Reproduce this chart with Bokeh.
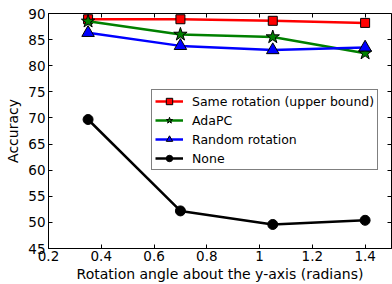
from bokeh.plotting import figure
from bokeh.models import Range1d, FixedTicker, LinearAxis, Legend, LegendItem
from bokeh.embed import file_html
from bokeh.resources import INLINE

angles = [0.35, 0.7, 1.05, 1.4]
same_rotation = [88.9, 88.9, 88.6, 88.2]
adapc = [88.5, 86.0, 85.5, 82.4]
random_rotation = [86.3, 83.8, 83.0, 83.5]
none_vals = [69.7, 52.2, 49.6, 50.4]

x_ticks = [0.2, 0.4, 0.6, 0.8, 1.0, 1.2, 1.4]
y_ticks = [45, 50, 55, 60, 65, 70, 75, 80, 85, 90]

series = [
    ("Same rotation (upper bound)", same_rotation, "#ff0000", "square", 9),
    ("AdaPC", adapc, "#008000", "star", 14),
    ("Random rotation", random_rotation, "#0000ff", "triangle", 12.5),
    ("None", none_vals, "#000000", "circle", 10),
]

FONT = "DejaVu Sans"

p = figure(width=392, height=284, output_backend="svg", toolbar_location=None,
           x_range=Range1d(0.2, 1.5), y_range=Range1d(45, 90),
           min_border_left=48, min_border_right=1, min_border_top=13, min_border_bottom=36)
p.xgrid.visible = False
p.ygrid.visible = False
p.outline_line_color = "black"
p.outline_line_width = 1
p.background_fill_color = "white"
p.border_fill_color = "white"

for ax, ticks in ((p.xaxis[0], x_ticks), (p.yaxis[0], y_ticks)):
    ax.ticker = FixedTicker(ticks=ticks)
    ax.major_tick_in = 4
    ax.major_tick_out = 0
    ax.minor_tick_line_color = None
    ax.axis_line_color = "black"
    ax.major_tick_line_color = "black"
    ax.major_label_text_font = FONT
    ax.major_label_text_font_size = "13.5px"
    ax.major_label_text_color = "black"
    ax.axis_label_text_font = FONT
    ax.axis_label_text_font_size = "14px"
    ax.axis_label_text_font_style = "normal"
    ax.axis_label_text_color = "black"

p.xaxis.axis_label = "Rotation angle about the y-axis (radians)"
p.yaxis.axis_label = "Accuracy"
p.xaxis.major_label_standoff = 2
p.xaxis.axis_label_standoff = 2
p.yaxis.major_label_standoff = 3
p.yaxis.axis_label_standoff = 4

for loc, ticks in (("above", x_ticks), ("right", y_ticks)):
    ax = LinearAxis(ticker=FixedTicker(ticks=ticks), major_tick_in=4, major_tick_out=0,
                    minor_tick_line_color=None, axis_line_color=None,
                    major_label_text_font_size="1px", major_label_text_color=None,
                    major_label_standoff=0, major_tick_line_color="black")
    p.add_layout(ax, loc)

items = []
for label, vals, color, marker, size in series:
    l = p.line(angles, vals, line_color=color, line_width=2.5)
    s = p.scatter(angles, vals, marker=marker, size=size, fill_color=color,
                  line_color="black", line_width=1)
    items.append(LegendItem(label=label, renderers=[l, s]))

legend = Legend(items=items, location=(103, 78), label_text_font=FONT,
                label_text_font_size="12.5px", label_text_color="black",
                border_line_color="black", border_line_width=1,
                glyph_width=28, glyph_height=16, spacing=3, padding=3,
                label_standoff=9, background_fill_alpha=1.0, margin=0)
p.add_layout(legend)

open("out.html", "w").write(file_html(p, INLINE))
